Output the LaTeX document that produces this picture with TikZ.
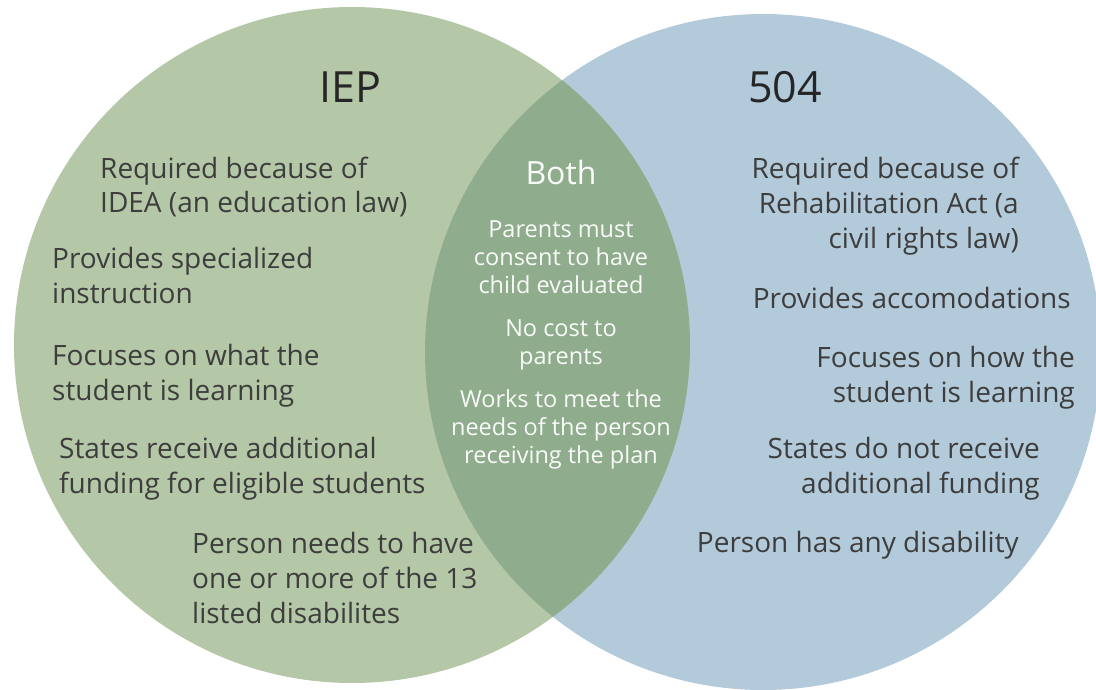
\documentclass[tikz,border=0pt]{standalone}
\usepackage{fontspec}
\setmainfont{Open Sans}
\usepackage{tikz}
\usetikzlibrary{positioning}

\definecolor{iepgreen}{HTML}{B4C7A6}
\definecolor{bothgreen}{HTML}{8FAC8D}
\definecolor{fivezerofourblue}{HTML}{B3CADA}
\definecolor{itemgray}{HTML}{3D3D3D}

\begin{document}
\begin{tikzpicture}[
    x=1pt, y=-1pt,
    title/.style={inner sep=0pt, text=black!85, font=\fontsize{43}{50}\selectfont},
    item/.style={inner sep=0pt, text=itemgray, font=\fontsize{28}{35}\selectfont},
    left_item/.style={item, anchor=base west, align=left},
    right_item/.style={item, anchor=base east, align=right},
    both_title/.style={inner sep=0pt, anchor=base, text=white!95!bothgreen, font=\fontsize{32}{36}\selectfont},
    both_item/.style={inner sep=0pt, anchor=base, align=center, text=white!95!bothgreen, font=\fontsize{23.5}{28}\selectfont}
]
    \useasboundingbox (0,0) rectangle (1096,690);
    \clip (0,0) rectangle (1096,690);

    % Circles
    \coordinate (iepc) at (352,345);
    \coordinate (fivec) at (763,352);
    \fill[iepgreen] (iepc) circle (338);
    \fill[fivezerofourblue] (fivec) circle (338);
    \begin{scope}
        \clip (iepc) circle (338);
        \fill[bothgreen] (fivec) circle (338);
    \end{scope}

    % Titles
    \node[title, anchor=base] (iep) at (350,103) {IEP};
    \node[title, anchor=base] (five) at (785,103) {504};

    % Group 1: IEP (at the last baseline of each text)
    \node[left_item] (idea) at (100,213) {Required because of\\IDEA (an education law)};
    \node[left_item] (special) at (52,303) {Provides specialized\\instruction};
    \node[left_item] (what) at (52,400) {Focuses on what the\\student is learning};
    \node[left_item] (funding) at (59,493) {States receive additional\\funding for eligible students};
    \node[left_item] (thirteen) at (192,623) {Person needs to have\\one or more of the 13\\listed disabilites};

    % Group 2: Both
    \node[both_title] (both) at (561,185) {Both};
    \node[both_item] (consent) at (561,293) {Parents must\\consent to have\\child evaluated};
    \node[both_item] (cost) at (561,364) {No cost to\\parents};
    \node[both_item] (meet) at (561,463) {Works to meet the\\needs of the person\\receiving the plan};

    % Group 3: 504
    \node[right_item] (rehab) at (1019,248) {Required because of\\Rehabilitation Act (a\\civil rights law)};
    \node[right_item] (accom) at (1071,308) {Provides accomodations};
    \node[right_item] (how) at (1075,402) {Focuses on how the\\student is learning};
    \node[right_item] (nofunding) at (1040,493) {States do not receive\\additional funding};
    \node[right_item] (any) at (1019,552) {Person has any disability};

\end{tikzpicture}
\end{document}
